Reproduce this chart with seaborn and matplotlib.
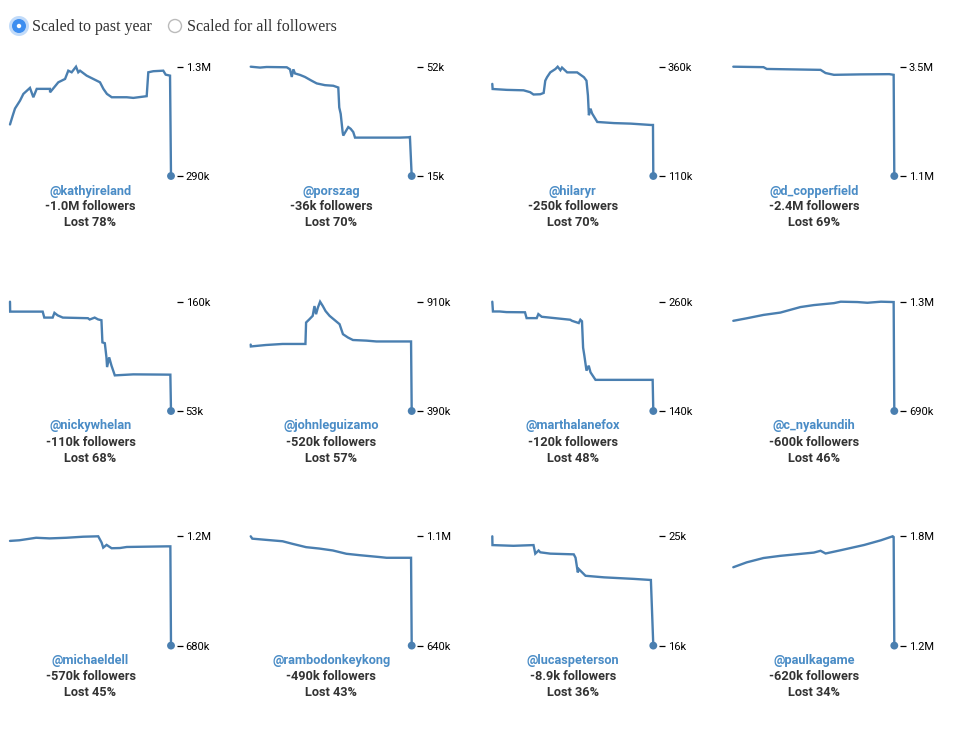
import matplotlib
matplotlib.use("Agg")
import matplotlib.pyplot as plt
import seaborn as sns
import pandas as pd
from matplotlib.patches import Circle

sns.set_theme(style="white")
plt.rcParams['font.family'] = ['Roboto', 'DejaVu Sans']

# ---------------- data ----------------
handles = ["kathyireland", "porszag", "hilaryr", "d_copperfield",
           "nickywhelan", "johnleguizamo", "marthalanefox", "c_nyakundih",
           "michaeldell", "rambodonkeykong", "lucaspeterson", "paulkagame"]
change_labels = ["-1.0M followers", "-36k followers", "-250k followers", "-2.4M followers",
                 "-110k followers", "-520k followers", "-120k followers", "-600k followers",
                 "-570k followers", "-490k followers", "-8.9k followers", "-620k followers"]
lost_labels = ["Lost 78%", "Lost 70%", "Lost 70%", "Lost 69%",
               "Lost 68%", "Lost 57%", "Lost 48%", "Lost 46%",
               "Lost 45%", "Lost 43%", "Lost 36%", "Lost 34%"]
top_labels = ["1.3M", "52k", "360k", "3.5M", "160k", "910k", "260k", "1.3M",
              "1.2M", "1.1M", "25k", "1.8M"]
bottom_labels = ["290k", "15k", "110k", "1.1M", "53k", "390k", "140k", "690k",
                 "680k", "640k", "16k", "1.2M"]
radio_labels = ["Scaled to past year", "Scaled for all followers"]

# followers in thousands, x = percent of the past year
kathyireland_x = [0, 1.7, 3.1, 6.2, 8.3, 12.4, 14.5, 16.6, 24.8, 24.9, 30.0, 34.2, 36.2, 38.3,
                  41.0, 42.4, 43.5, 47.6, 55.9, 58.0, 60.2, 63.2, 72.5, 76.6, 84.9, 85.9,
                  89.0, 95.2, 96.7, 99.4, 100]
kathyireland_y = [769, 852, 917, 990, 1053, 1109, 1022, 1100, 1100, 1068, 1161, 1192, 1269, 1254,
                  1306, 1254, 1269, 1223, 1161, 1100, 1053, 1022, 1022, 1016, 1032, 1254,
                  1264, 1269, 1232, 1223, 290]

porszag_x = [0, 5.8, 9.9, 22.4, 24.4, 25.5, 26.5, 27.5, 30.6, 33.7, 37.9, 41.0, 46.1, 51.3,
             54.4, 55.0, 55.9, 57.1, 57.5, 60.6, 62.1, 63.7, 64.8, 72.0, 92.7, 97.9, 98.9, 100]
porszag_y = [52.3, 52.0, 52.2, 52.1, 51.4, 48.8, 51.4, 50.0, 49.5, 48.8, 47.5, 46.6, 46.0, 45.8,
             45.2, 38.4, 36.2, 30.0, 28.8, 31.7, 31.1, 30.0, 28.1, 28.1, 28.1, 28.2, 28.3, 15.0]

hilaryr_x = [0, 0.2, 9.0, 19.4, 23.5, 25.6, 29.8, 31.9, 32.9, 34.0, 36.0, 39.2, 40.6, 42.3,
             43.3, 46.5, 52.7, 56.9, 58.5, 59.4, 60.0, 61.0, 62.0, 65.2, 75.6, 86.0, 98.5,
             99.8, 100]
hilaryr_y = [320.7, 309, 307, 306, 301.7, 296.4, 297, 300, 328, 336, 347, 354.7, 360, 352,
             358, 347, 347, 336, 328, 294, 249, 264, 253, 233.6, 231, 229.8, 226.7, 226.7, 110]

d_copperfield_x = [0, 18.75, 20.8, 54.2, 57.3, 62.5, 79.2, 96.9, 99.6, 100]
d_copperfield_y = [3520, 3510, 3470, 3450, 3380, 3340, 3350, 3355, 3340, 1100]

nickywhelan_x = [0, 0.1, 20.3, 21.3, 26.5, 27.6, 29.6, 32.8, 48.4, 49.5, 52.6, 54.7, 56.8,
                 57.4, 58.9, 59.9, 60.3, 61.6, 63.0, 65.1, 76.6, 93.3, 99.6, 100]
nickywhelan_y = [161, 151.2, 151.2, 145.3, 145.3, 150, 147.5, 145.3, 144.7, 143.4, 145.3,
                 143.5, 142.7, 120.8, 120, 106, 96.4, 106, 98, 88.2, 89.2, 89.0, 88.9, 53]

johnleguizamo_x = [0, 0.1, 9.4, 19.8, 34.0, 34.4, 36.5, 38.5, 39.6, 40.6, 41.7, 43.1, 44.8,
                   46.5, 49.0, 55.2, 57.3, 60.4, 63.5, 71.9, 78.1, 99.6, 100]
johnleguizamo_y = [709, 700, 707, 712, 712, 815, 831, 847, 894, 855, 886, 915, 894, 870,
                   847, 807, 759, 743, 731, 728, 724, 724, 390]

marthalanefox_x = [0, 0.4, 4.6, 8.8, 20.3, 21.3, 27.6, 28.6, 30.7, 48.4, 49.5, 53.7, 54.7,
                   55.7, 56.4, 57.2, 58.5, 59.9, 61.0, 64.1, 75.6, 99.6, 100]
marthalanefox_y = [261.8, 250.9, 250.9, 250.2, 250, 243.5, 243.5, 248, 245, 241.7, 240.5, 238,
                   241.7, 240, 210.6, 201.4, 185, 190.5, 183.1, 174.7, 174.7, 174.7, 140]

c_nyakundih_x = [0, 8.3, 18.75, 29.2, 41.7, 50.0, 62.5, 66.7, 77.1, 83.3, 91.7, 99.6, 100]
c_nyakundih_y = [1195, 1209, 1228, 1241, 1272, 1283, 1294, 1302, 1300, 1296, 1302, 1300, 690]

michaeldell_x = [0, 5.8, 16.25, 24.6, 35.0, 45.4, 54.8, 56.9, 57.9, 60.0, 63.1, 68.3, 72.5,
                 97.5, 99.6, 100]
michaeldell_y = [1180, 1183, 1195, 1192, 1195, 1200, 1202, 1172, 1148, 1161, 1145, 1146, 1151,
                 1154, 1154, 680]

rambodonkeykong_x = [0, 1.0, 9.4, 19.8, 26.0, 34.4, 42.7, 51.0, 59.4, 67.7, 80.2, 84.4, 99.6, 100]
rambodonkeykong_y = [1103, 1093, 1088, 1082, 1071, 1057, 1051, 1043, 1029, 1023, 1015, 1012,
                     1012, 640]

lucaspeterson_x = [0, 0.1, 13.1, 25.6, 26.7, 28.75, 29.8, 36.0, 50.6, 51.7, 53.1, 53.75, 57.9,
                   69.4, 88.1, 98.5, 100]
lucaspeterson_y = [25.08, 24.35, 24.29, 24.35, 23.64, 23.9, 23.75, 23.64, 23.58, 23.3, 22.08,
                   22.35, 21.8, 21.67, 21.54, 21.45, 16.0]

paulkagame_x = [0, 8.3, 18.75, 29.2, 39.6, 50.0, 54.2, 57.3, 66.7, 81.25, 91.7, 99.0, 99.6, 100]
paulkagame_y = [1633, 1660, 1684, 1696, 1705, 1714, 1724, 1709, 1727, 1756, 1782, 1804, 1800, 1200]

series_x = [kathyireland_x, porszag_x, hilaryr_x, d_copperfield_x,
            nickywhelan_x, johnleguizamo_x, marthalanefox_x, c_nyakundih_x,
            michaeldell_x, rambodonkeykong_x, lucaspeterson_x, paulkagame_x]
series_y = [kathyireland_y, porszag_y, hilaryr_y, d_copperfield_y,
            nickywhelan_y, johnleguizamo_y, marthalanefox_y, c_nyakundih_y,
            michaeldell_y, rambodonkeykong_y, lucaspeterson_y, paulkagame_y]

# ---------------- style ----------------
LINE = "#4a7fb0"
HANDLE = "#4a8cc6"
TEXT = "#333333"
W, H = 960, 739
col_left = [10, 250.7, 492.3, 733.3]
row_top = [66.7, 301.7, 536.3]
base_w = 161.0
pw, ph = base_w * 1.035, 109.3
fam = ['Roboto', 'DejaVu Sans']

fig = plt.figure(figsize=(W / 100, H / 100), dpi=100)
fig.patch.set_facecolor("white")

for i in range(12):
    r, c = divmod(i, 4)
    ax = fig.add_axes([col_left[c] / W, 1 - (row_top[r] + ph) / H, pw / W, ph / H])
    df = pd.DataFrame({"x": series_x[i], "y": series_y[i]})
    sns.lineplot(data=df, x="x", y="y", ax=ax, estimator=None, sort=False,
                 color=LINE, linewidth=1.7)
    for ln in ax.lines:
        ln.set_clip_on(False)
        ln.set_solid_joinstyle("miter")
    sns.scatterplot(x=[df.x.iloc[-1]], y=[df.y.iloc[-1]], ax=ax, color=LINE, s=32,
                    edgecolor="none", linewidth=0, zorder=5, clip_on=False)
    ymin, ymax = df.y.min(), df.y.max()
    ax.set_xlim(0, 103.5)
    ax.set_ylim(ymin, ymax)
    ax.set_yticks([ymin, ymax])
    ax.set_yticklabels([bottom_labels[i], top_labels[i]])
    ax.yaxis.tick_right()
    ax.tick_params(axis="y", length=4.5, width=0.9, color="black", pad=2.0,
                   labelsize=8, labelcolor="black", right=True, left=False)
    for lab in ax.get_yticklabels():
        lab.set_family(fam)
    ax.set_xticks([])
    for s in ax.spines.values():
        s.set_visible(False)
    ax.set_xlabel("")
    ax.set_ylabel("")
    ax.patch.set_alpha(0)

    cx = (col_left[c] + base_w / 2) / W
    yb = row_top[r] + ph
    fig.text(cx, 1 - (yb + 15) / H, "@" + handles[i], ha="center", va="center",
             color=HANDLE, fontsize=9.2, fontweight="bold", family=fam)
    fig.text(cx, 1 - (yb + 31) / H, change_labels[i], ha="center", va="center",
             color=TEXT, fontsize=9.2, fontweight="bold", family=fam)
    fig.text(cx, 1 - (yb + 47) / H, lost_labels[i], ha="center", va="center",
             color=TEXT, fontsize=9.2, fontweight="bold", family=fam)

# radio buttons
ov = fig.add_axes([0, 0, 1, 1])
ov.set_xlim(0, W)
ov.set_ylim(H, 0)
ov.axis("off")
ov.patch.set_alpha(0)
ov.add_patch(Circle((19, 26), 10, facecolor="#a9cdf7", edgecolor="none", alpha=0.7))
ov.add_patch(Circle((19, 26), 7, facecolor="#3d8ef0", edgecolor="none"))
ov.add_patch(Circle((19, 26), 2.2, facecolor="white", edgecolor="none"))
ov.add_patch(Circle((175, 26), 6.5, facecolor="white", edgecolor="#bbbbbb", linewidth=1))
ov.text(32, 31, radio_labels[0], ha="left", va="baseline", fontsize=11.5, color=TEXT,
        family=["Liberation Serif", "DejaVu Serif"])
ov.text(187, 31, radio_labels[1], ha="left", va="baseline", fontsize=11.5, color=TEXT,
        family=["Liberation Serif", "DejaVu Serif"])

fig.savefig("out.png", dpi=100, facecolor="white")
